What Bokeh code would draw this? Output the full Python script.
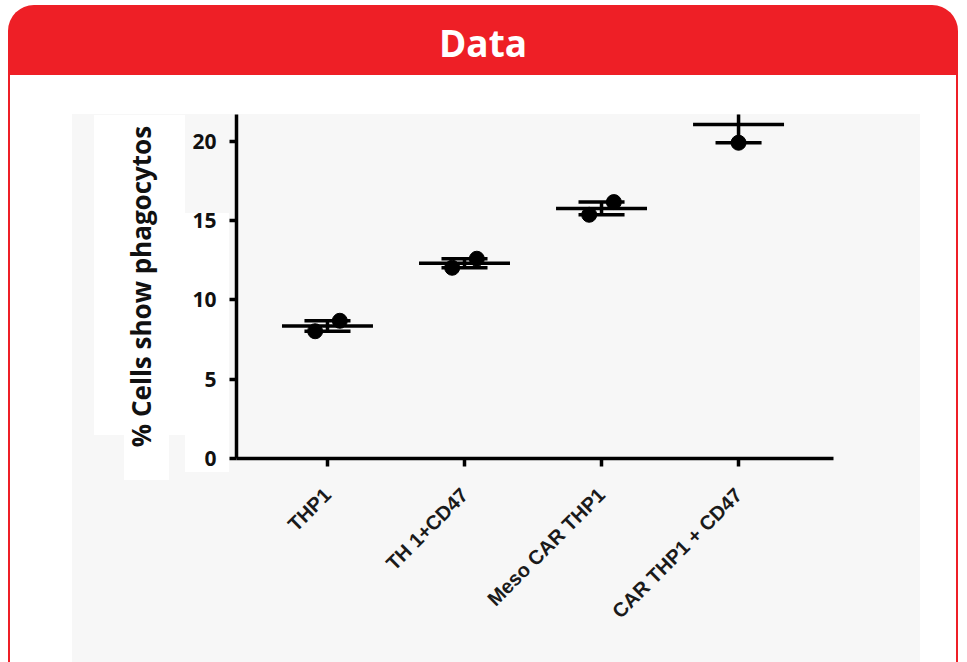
import numpy as np
from bokeh.plotting import figure
from bokeh.models import FixedTicker, Range1d, Div
from bokeh.layouts import column
from bokeh.embed import file_html
from bokeh.resources import INLINE

# ---------------- data ----------------
categories = ["THP1", "TH 1+CD47", "Meso CAR THP1", "CAR THP1 + CD47"]
replicate_a = [8.02, 12.02, 15.36, 19.90]   # lower replicate
replicate_b = [8.68, 12.59, 16.16, 22.20]   # upper replicate (last one off-scale)
y_ticks = [0, 5, 10, 15, 20]
title_text = "Data"
y_title = "% Cells show phagocytos"

# ---------------- styling constants ----------------
RED = "#ee1f26"
PANEL = "#f7f7f7"
FIG_W, FIG_H = 967, 587
Y_MAX = 21.68
FRAME_H = 344
MARKER = 15

a = np.array(replicate_a)
b = np.array(replicate_b)
x = np.arange(1, len(categories) + 1, dtype=float)
means = (a + b) / 2.0
sem = np.abs(b - a) / 2.0

# spread points horizontally only when they would overlap
px_per_unit = FRAME_H / Y_MAX
spread = np.where(np.abs(b - a) * px_per_unit < MARKER, 0.09, 0.0)

bg_layers = ", ".join([
    f"linear-gradient({RED},{RED}) 8px 0px / 2px 100% no-repeat",
    f"linear-gradient({RED},{RED}) 956px 0px / 2px 100% no-repeat",
    "linear-gradient(#ffffff,#ffffff) 94px 40px / 91px 320px no-repeat",
    "linear-gradient(#ffffff,#ffffff) 124px 360px / 45px 45px no-repeat",
    "linear-gradient(#ffffff,#ffffff) 185px 138px / 44px 259px no-repeat",
    f"linear-gradient({PANEL},{PANEL}) 72px 39px / 848px 548px no-repeat",
    "#ffffff",
])

p = figure(width=FIG_W, height=FIG_H, output_backend="svg", toolbar_location=None,
           x_range=Range1d(0.336, 4.693), y_range=Range1d(0, Y_MAX),
           min_border_left=236, min_border_right=134,
           min_border_top=39, min_border_bottom=204,
           outline_line_color=None, background_fill_color=PANEL,
           border_fill_color=None, styles={"background": bg_layers})
p.grid.visible = False

# ---------------- marks ----------------
p.scatter(x - spread, a, size=MARKER, color="black")
p.scatter(x + spread, b, size=MARKER, color="black")
p.segment(x0=x - 0.332, x1=x + 0.332, y0=means, y1=means, line_width=3.5, line_color="black")
p.segment(x0=x, x1=x, y0=means - sem, y1=means + sem, line_width=3.5, line_color="black")
p.segment(x0=x - 0.168, x1=x + 0.168, y0=means - sem, y1=means - sem, line_width=3.5, line_color="black")
p.segment(x0=x - 0.168, x1=x + 0.168, y0=means + sem, y1=means + sem, line_width=3.5, line_color="black")

# ---------------- axes ----------------
xa = p.xaxis[0]
xa.ticker = FixedTicker(ticks=list(x))
xa.major_label_overrides = {int(v): c for v, c in zip(x, categories)}
xa.major_label_orientation = np.pi / 4
xa.axis_line_width = 3.5
xa.axis_line_color = "black"
xa.major_tick_line_width = 3.5
xa.major_tick_out = 8
xa.major_tick_in = 0
xa.minor_tick_line_color = None
xa.major_label_text_font = "Liberation Sans"
xa.major_label_text_font_style = "bold"
xa.major_label_text_font_size = "20px"
xa.major_label_text_color = "#1a1a1a"
xa.major_label_standoff = 25

ya = p.yaxis[0]
ya.ticker = FixedTicker(ticks=y_ticks)
ya.axis_line_width = 3.5
ya.axis_line_color = "black"
ya.major_tick_line_width = 3.5
ya.major_tick_out = 7
ya.major_tick_in = 0
ya.minor_tick_line_color = None
ya.major_label_text_font = "Open Sans"
ya.major_label_text_font_style = "bold"
ya.major_label_text_font_size = "21px"
ya.major_label_text_color = "#111111"
ya.major_label_standoff = 13
ya.axis_label = y_title
ya.axis_label_text_font = "Open Sans"
ya.axis_label_text_font_style = "bold"
ya.axis_label_text_font_size = "26px"
ya.axis_label_text_color = "#111111"
ya.axis_label_standoff = 30

header = Div(text=title_text, width=950, height=70, margin=(5, 0, 0, 8),
             styles={"background-color": RED, "color": "white",
                     "font-family": "Open Sans", "font-weight": "bold",
                     "font-size": "37px", "text-align": "center",
                     "line-height": "76px", "border-radius": "26px 26px 0 0",
                     "overflow": "hidden"})

layout = column(header, p, spacing=0)

open("out.html", "w").write(file_html(layout, INLINE))
